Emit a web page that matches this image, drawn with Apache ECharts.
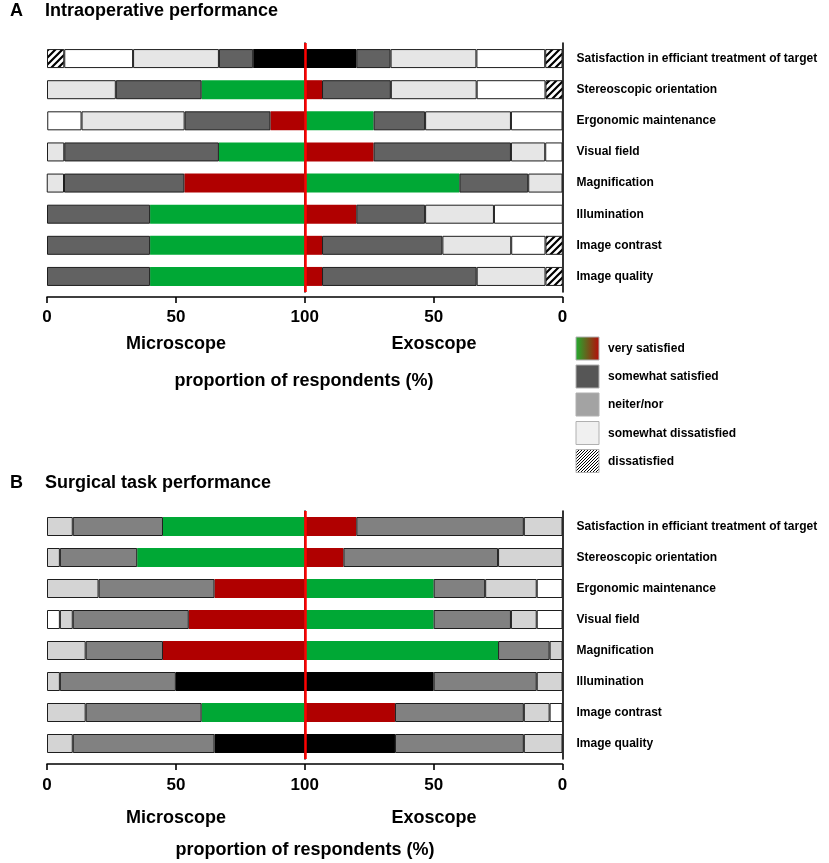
<!DOCTYPE html>
<html>
<head>
<meta charset="utf-8">
<script src="https://cdn.jsdelivr.net/npm/echarts@6/dist/echarts.min.js"></script>
<style>
html, body { margin: 0; padding: 0; background: #fff; }
#main { width: 829px; height: 863px; }
</style>
</head>
<body>
<div id="main"></div>
<script>
var categories = [
  'Satisfaction in efficiant treatment of target',
  'Stereoscopic orientation',
  'Ergonomic maintenance',
  'Visual field',
  'Magnification',
  'Illumination',
  'Image contrast',
  'Image quality'
];

// panel A: intraoperative performance, % of respondents
var micA_very    = [20, 40, 13.3, 33.3, 46.7, 60, 60, 60];
var micA_some    = [13.3, 33.3, 33.3, 60, 46.7, 40, 40, 40];
var micA_neither = [33.3, 26.7, 40, 6.7, 6.7, 0, 0, 0];
var micA_someDis = [26.7, 0, 13.3, 0, 0, 0, 0, 0];
var micA_dis     = [6.7, 0, 0, 0, 0, 0, 0, 0];

var exoA_very    = [20, 6.7, 26.7, 26.7, 60, 20, 6.7, 6.7];
var exoA_some    = [13.3, 26.7, 20, 53.3, 26.7, 26.7, 46.7, 60];
var exoA_neither = [33.3, 33.3, 33.3, 13.3, 13.3, 26.7, 26.7, 26.7];
var exoA_someDis = [26.7, 26.7, 20, 6.7, 0, 26.7, 13.3, 0];
var exoA_dis     = [6.7, 6.7, 0, 0, 0, 0, 6.7, 6.7];

// panel B: surgical task performance
var micB_very    = [55, 65, 35, 45, 55, 50, 40, 35];
var micB_some    = [35, 30, 45, 45, 30, 45, 45, 55];
var micB_neither = [10, 5, 20, 5, 15, 5, 15, 10];
var micB_someDis = [0, 0, 0, 5, 0, 0, 0, 0];
var micB_dis     = [0, 0, 0, 0, 0, 0, 0, 0];

var exoB_very    = [20, 15, 50, 50, 75, 50, 35, 35];
var exoB_some    = [65, 60, 20, 30, 20, 40, 50, 50];
var exoB_neither = [15, 25, 20, 10, 5, 10, 10, 15];
var exoB_someDis = [0, 0, 10, 10, 0, 0, 5, 0];
var exoB_dis     = [0, 0, 0, 0, 0, 0, 0, 0];

var legendLabels = ['very satisfied', 'somewhat satisfied', 'neiter/nor', 'somewhat dissatisfied', 'dissatisfied'];

var FONT = '"Liberation Sans", Arial, sans-serif';

function hatch(step, lw) {
  var c = document.createElement('canvas');
  c.width = step; c.height = step;
  var g = c.getContext('2d');
  g.fillStyle = '#fff';
  g.fillRect(0, 0, step, step);
  g.strokeStyle = '#000';
  g.lineWidth = lw;
  g.beginPath();
  g.moveTo(-1, step + 1); g.lineTo(step + 1, -1);
  g.moveTo(-2, 2); g.lineTo(2, -2);
  g.moveTo(step - 2, step + 2); g.lineTo(step + 2, step - 2);
  g.stroke();
  return { image: c, repeat: 'repeat' };
}

var palA = { green: '#00a835', red: '#b00000', dark: '#626262', light: '#e6e6e6' };
var palB = { green: '#00a835', red: '#b00000', dark: '#818181', light: '#d4d4d4' };

function panelSeries(gi, mic, exo, pal) {
  var fills = [null, pal.dark, pal.light, '#ffffff', hatch(7, 2.2)];
  var out = [];
  [[mic, exo, -1], [exo, mic, 1]].forEach(function (side) {
    side[0].forEach(function (vals, k) {
      var data = vals.map(function (v, i) {
        if (!v) return '-';
        var item = { value: side[2] * v };
        if (k === 0) {
          var o = side[1][0][i];
          var c = v > o ? pal.green : (v < o ? pal.red : '#000000');
          item.itemStyle = { color: c, borderColor: c, borderWidth: 0 };
        }
        return item;
      });
      out.push({
        type: 'bar',
        xAxisIndex: gi,
        yAxisIndex: gi * 2,
        stack: 'p' + gi,
        barWidth: 19,
        silent: true,
        data: data,
        itemStyle: k === 0 ? {} : { color: fills[k], borderColor: '#1e1e1e', borderWidth: 1 }
      });
    });
  });
  out.push({
    type: 'line',
    xAxisIndex: gi,
    yAxisIndex: gi * 2,
    data: [],
    z: 10,
    markLine: {
      silent: true,
      symbol: 'none',
      label: { show: false },
      lineStyle: { color: '#ff0000', width: 2.5, type: 'solid' },
      data: [{ xAxis: 0 }]
    }
  });
  return out;
}

var grids = [
  { left: 47, right: 266.5, top: 43, height: 249 },
  { left: 47, right: 266.5, top: 511, height: 248 }
];

function xAx(gi, margin) {
  return {
    type: 'value', gridIndex: gi, min: -100, max: 100, interval: 50, offset: 5,
    axisLine: { show: true, lineStyle: { color: '#000', width: 1.6 } },
    axisTick: { show: true, length: 6, lineStyle: { color: '#000', width: 1.6 } },
    splitLine: { show: false },
    axisLabel: {
      margin: margin, fontSize: 17, fontWeight: 'bold', color: '#000', fontFamily: FONT,
      formatter: function (v) { return String(100 - Math.abs(v)); }
    }
  };
}

function yAxes(gi) {
  var base = {
    type: 'category', gridIndex: gi, data: categories, inverse: true,
    axisLine: { show: true, lineStyle: { color: '#000', width: 1.6 } },
    axisTick: { show: false }, splitLine: { show: false }
  };
  return [
    Object.assign({}, base, { position: 'left', axisLabel: { show: false } }),
    Object.assign({}, base, {
      position: 'right',
      axisLabel: { margin: 14, fontSize: 12, fontWeight: 'bold', color: '#000', fontFamily: FONT }
    })
  ];
}

function txt(x, y, s, size, align) {
  return {
    type: 'text', x: x, y: y, silent: true,
    style: { text: s, fontSize: size, fontWeight: 'bold', fontFamily: FONT, fill: '#000',
             textAlign: align || 'center', textVerticalAlign: 'middle' }
  };
}

var graphics = [
  txt(10, 11, 'A', 18, 'left'),
  txt(45, 11, 'Intraoperative performance', 18, 'left'),
  txt(176, 344, 'Microscope', 18),
  txt(434, 344, 'Exoscope', 18),
  txt(304, 381, 'proportion of respondents (%)', 18),
  txt(10, 483, 'B', 18, 'left'),
  txt(45, 483, 'Surgical task performance', 18, 'left'),
  txt(176, 818, 'Microscope', 18),
  txt(434, 818, 'Exoscope', 18),
  txt(305, 850, 'proportion of respondents (%)', 18)
];

// legend swatches
var swatchFills = [
  new echarts.graphic.LinearGradient(0, 0, 1, 0, [
    { offset: 0, color: '#1fae2e' }, { offset: 1, color: '#b80a0a' }
  ]),
  '#565656', '#a3a3a3', '#f0f0f0', hatch(3, 1)
];
var swatchY = [337, 365, 393, 421.5, 449.5];
legendLabels.forEach(function (lab, i) {
  graphics.push({
    type: 'rect', silent: true,
    shape: { x: 576, y: swatchY[i], width: 23, height: 23 },
    style: { fill: swatchFills[i], stroke: '#b0b0b0', lineWidth: 1 }
  });
  graphics.push(txt(608, swatchY[i] + 12, lab, 12, 'left'));
});

var chart = echarts.init(document.getElementById('main'), null, { renderer: 'canvas' });
chart.setOption({
  animation: false,
  backgroundColor: '#ffffff',
  grid: grids,
  xAxis: [xAx(0, 12), xAx(1, 13)],
  yAxis: yAxes(0).concat(yAxes(1)),
  series: panelSeries(0,
      [micA_very, micA_some, micA_neither, micA_someDis, micA_dis],
      [exoA_very, exoA_some, exoA_neither, exoA_someDis, exoA_dis], palA)
    .concat(panelSeries(1,
      [micB_very, micB_some, micB_neither, micB_someDis, micB_dis],
      [exoB_very, exoB_some, exoB_neither, exoB_someDis, exoB_dis], palB)),
  graphic: graphics
});
</script>
</body>
</html>
